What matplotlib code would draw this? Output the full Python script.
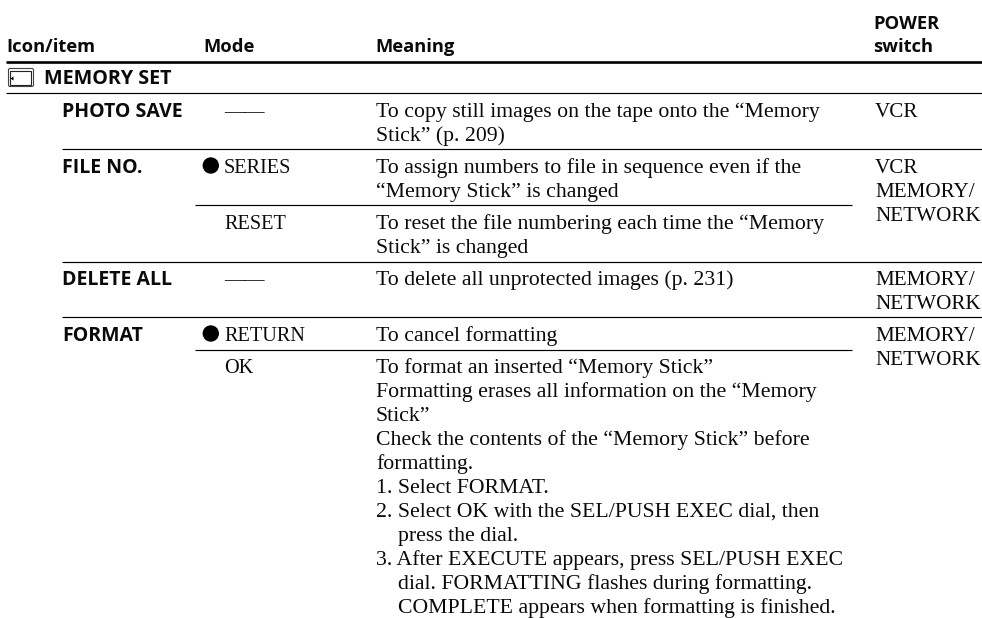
import matplotlib
matplotlib.use("Agg")
import matplotlib.pyplot as plt
from matplotlib.patches import FancyBboxPatch, Rectangle, Circle, Polygon

headers = ["Icon/item", "Mode", "Meaning", "POWER\nswitch"]
section = "MEMORY SET"
items = ["PHOTO SAVE", "FILE NO.", "DELETE ALL", "FORMAT"]
modes = ["——", "SERIES", "RESET", "——", "RETURN", "OK"]
meanings = [
    "To copy still images on the tape onto the “Memory\nStick” (p. 209)",
    "To assign numbers to file in sequence even if the\n“Memory Stick” is changed",
    "To reset the file numbering each time the “Memory\nStick” is changed",
    "To delete all unprotected images (p. 231)",
    "To cancel formatting",
    "To format an inserted “Memory Stick”\nFormatting erases all information on the “Memory\nStick”\n"
    "Check the contents of the “Memory Stick” before\nformatting.\n1. Select FORMAT.\n"
    "2. Select OK with the SEL/PUSH EXEC dial, then\n    press the dial.\n"
    "3. After EXECUTE appears, press SEL/PUSH EXEC\n    dial. FORMATTING flashes during formatting.\n"
    "    COMPLETE appears when formatting is finished.",
]
switches = ["VCR", "VCR\nMEMORY/\nNETWORK", "MEMORY/\nNETWORK", "MEMORY/\nNETWORK"]

# layout, in pixels of the 982x618 page
W, H = 982, 618
ROW_TOPS_ITEM = [93, 149, 261, 317]
ROW_TOPS_MODE = [93, 149, 205, 261, 317, 349.3]
DEFAULT_MODE = [False, True, False, False, True, False]
X_ITEM, X_MODE, X_BULLET, X_MEAN, X_SW = 62.5, 224, 210.8, 376, 875
BASE = 23.7
LEAD = 24
SERIF = "Liberation Serif"
SANS = "Open Sans"
INK = "#0a0a0a"
FS_MEAN, FS_MODE, FS_SW = 15.7, 14.6, 15.2
FS_ITEM, FS_HDR, FS_SEC = 14.0, 13.2, 14.2

fig = plt.figure(figsize=(W / 100, H / 100), dpi=100, facecolor="white")
ax = fig.add_axes([0, 0, 1, 1])
ax.set_xlim(0, W)
ax.set_ylim(H, 0)
ax.axis("off")


def rule(y, x0, x1, lw=0.85):
    ax.plot([x0, x1], [y, y], color="black", lw=lw, solid_capstyle="butt")


def block(x, y, s, **kw):
    for i, line in enumerate(s.split("\n")):
        ax.text(x, y + i * LEAD, line, va="baseline", color=INK, **kw)


rule(61.7, 6, W, 1.9)
rule(92.8, 6, W)
rule(149, X_ITEM, W)
rule(205, 195, 852)
rule(261.5, X_ITEM, W)
rule(317.3, X_ITEM, W)
rule(349.6, 195, 852)

hdr = dict(family=SANS, weight="bold", fontsize=FS_HDR, va="baseline", color=INK)
ax.text(6, 52, headers[0], **hdr)
ax.text(203, 52, headers[1], **hdr)
ax.text(375, 52, headers[2], **hdr)
ax.text(873, 29, headers[3].split("\n")[0], **hdr)
ax.text(873, 52, headers[3].split("\n")[1], **hdr)

# icon
ax.add_patch(FancyBboxPatch((8.5, 68.5), 25, 18, boxstyle="round,pad=0,rounding_size=1.5",
                            fc="white", ec="#444444", lw=0.8))
ax.add_patch(Rectangle((10.5, 70.5), 21, 14, fc="white", ec="#222222", lw=0.8))
ax.add_patch(Polygon([[10.5, 78.5], [13.5, 76.5], [13.5, 80.5]], fc="black", ec="none"))

ax.text(44, 84, section, family=SANS, weight="bold", fontsize=FS_SEC, va="baseline", color=INK)

for y, t in zip(ROW_TOPS_ITEM, items):
    ax.text(X_ITEM, y + BASE, t, family=SANS, weight="bold", fontsize=FS_ITEM, va="baseline", color=INK)

for y, t, d in zip(ROW_TOPS_MODE, modes, DEFAULT_MODE):
    block(X_MODE, y + BASE, t, family=SERIF, fontsize=FS_MODE)
    if d:
        ax.add_patch(Circle((X_BULLET, y + 16.5), 8.2, fc="black", ec="none"))

for y, t in zip(ROW_TOPS_MODE, meanings):
    block(X_MEAN, y + BASE, t, family=SERIF, fontsize=FS_MEAN)

for y, t in zip(ROW_TOPS_ITEM, switches):
    block(X_SW, y + BASE, t, family=SERIF, fontsize=FS_SW)

fig.savefig("out.png", dpi=100, facecolor="white")
